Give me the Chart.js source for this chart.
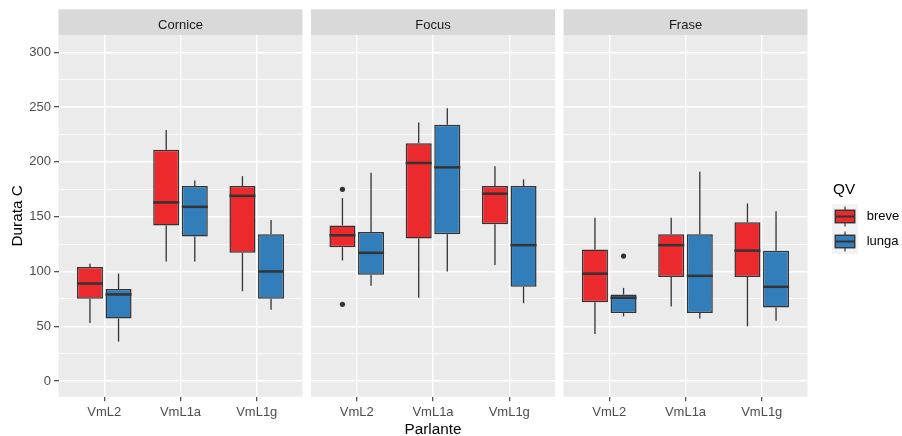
<!DOCTYPE html>
<html>
<head>
<meta charset="utf-8">
<title>Durata C per Parlante</title>
<script src="https://cdn.jsdelivr.net/npm/chart.js@4.4.1/dist/chart.umd.min.js"></script>
<style>
  html, body { margin: 0; padding: 0; background: #ffffff; }
  #wrap { position: relative; width: 902px; height: 436px; overflow: hidden; background: #ffffff; }
  canvas { position: absolute; top: 0; }
</style>
</head>
<body>
<div id="wrap">
  <canvas id="pCornice" width="303" height="436" style="left:0px"></canvas>
  <canvas id="pFocus" width="244" height="436" style="left:311px"></canvas>
  <canvas id="pFrase" width="339" height="436" style="left:563px"></canvas>
</div>
<script>
// Speakers on the x axis, facets across the top, QV groups in the legend
const categories = ['VmL2', 'VmL1a', 'VmL1g'];
const facets = ['Cornice', 'Focus', 'Frase'];
const groups = ['breve', 'lunga'];
const groupColors = ['#EC2A2E', '#327EBA'];
const yTicks = [0, 50, 100, 150, 200, 250, 300];
const yGrid = [0, 25, 50, 75, 100, 125, 150, 175, 200, 225, 250, 275, 300];

// Five-number summaries per speaker: [min, q1, median, q3, max]
const corniceBreve = [[53, 75, 89, 104, 107], [109, 142, 163, 211, 229], [82, 117, 169, 178, 187]];
const corniceLunga = [[36, 57, 79, 84, 98], [109, 132, 159, 178, 183], [65, 75, 100, 134, 147]];
const focusBreve = [[110, 122, 133, 142, 167], [76, 130, 199, 217, 236], [106, 143, 171, 178, 196]];
const focusLunga = [[87, 97, 117, 136, 190], [100, 134, 195, 234, 249], [71, 86, 124, 178, 184]];
const fraseBreve = [[43, 72, 98, 120, 149], [68, 95, 124, 134, 149], [50, 95, 119, 145, 162]];
const fraseLunga = [[59, 62, 76, 79, 85], [57, 62, 96, 134, 191], [55, 67, 86, 119, 155]];

// Outliers: [group index, speaker index, value]
const corniceOutliers = [];
const focusOutliers = [[0, 0, 175], [0, 0, 70]];
const fraseOutliers = [[1, 0, 114]];

const FONT = '"Liberation Sans", Arial, sans-serif';
Chart.defaults.font.family = FONT;

function strokeLine(ctx, x1, y1, x2, y2) {
  ctx.beginPath();
  ctx.moveTo(x1, y1);
  ctx.lineTo(x2, y2);
  ctx.stroke();
}

function drawLegend(ctx, ox) {
  ctx.save();
  ctx.fillStyle = '#000000';
  ctx.font = '15.3px ' + FONT;
  ctx.textAlign = 'left';
  ctx.textBaseline = 'alphabetic';
  ctx.fillText('QV', 833 - ox, 194);
  groups.forEach((g, k) => {
    const kx = 832 - ox, ky = 204 + k * 25, kw = 26, kh = 25;
    ctx.fillStyle = '#F2F2F2';
    ctx.fillRect(kx, ky, kw, kh);
    const cx = kx + kw / 2;
    ctx.strokeStyle = '#333333';
    ctx.lineWidth = 1.2;
    strokeLine(ctx, cx, ky + kh * 0.1, cx, ky + kh * 0.25);
    strokeLine(ctx, cx, ky + kh * 0.75, cx, ky + kh * 0.9);
    ctx.fillStyle = groupColors[k];
    ctx.fillRect(kx + kw * 0.125, ky + kh * 0.25, kw * 0.75, kh * 0.5);
    ctx.lineWidth = 1.4;
    ctx.strokeRect(kx + kw * 0.125, ky + kh * 0.25, kw * 0.75, kh * 0.5);
    ctx.lineWidth = 2;
    strokeLine(ctx, kx + kw * 0.125, ky + kh / 2, kx + kw * 0.875, ky + kh / 2);
    ctx.fillStyle = '#000000';
    ctx.font = '13px ' + FONT;
    ctx.textBaseline = 'middle';
    ctx.fillText(g, 866.7 - ox, ky + kh / 2);
  });
  ctx.restore();
}

function panel(id, facet, breve, lunga, outliers, cfg) {
  const stats = [breve, lunga];

  const boxDetails = {
    id: 'boxDetails',
    beforeDraw(chart) {
      const { ctx, chartArea: a } = chart;
      ctx.save();
      ctx.fillStyle = '#EBEBEB';
      ctx.fillRect(a.left, a.top, a.right - a.left, a.bottom - a.top);
      ctx.fillStyle = '#D9D9D9';
      ctx.fillRect(a.left, 9.3, a.right - a.left, a.top - 9.3);
      ctx.fillStyle = '#1A1A1A';
      ctx.font = '13px ' + FONT;
      ctx.textAlign = 'center';
      ctx.textBaseline = 'alphabetic';
      ctx.fillText(facet, (a.left + a.right) / 2, 28.5);
      ctx.restore();
    },
    afterDatasetsDraw(chart) {
      const ctx = chart.ctx;
      const ys = chart.scales.y;
      ctx.save();
      ctx.strokeStyle = '#333333';
      stats.forEach((series, g) => {
        const meta = chart.getDatasetMeta(g);
        series.forEach((s, i) => {
          const bar = meta.data[i];
          const half = bar.width / 2;
          ctx.lineWidth = 1.3;
          strokeLine(ctx, bar.x, ys.getPixelForValue(s[3]), bar.x, ys.getPixelForValue(s[4]));
          strokeLine(ctx, bar.x, ys.getPixelForValue(s[1]), bar.x, ys.getPixelForValue(s[0]));
          ctx.lineWidth = 2.5;
          const my = ys.getPixelForValue(s[2]);
          strokeLine(ctx, bar.x - half, my, bar.x + half, my);
        });
      });
      ctx.fillStyle = '#333333';
      outliers.forEach(([g, i, v]) => {
        const bar = chart.getDatasetMeta(g).data[i];
        ctx.beginPath();
        ctx.arc(bar.x, ys.getPixelForValue(v), 2.6, 0, Math.PI * 2);
        ctx.fill();
      });
      ctx.restore();
    },
    afterDraw(chart) {
      if (cfg.legendOffset !== undefined) drawLegend(chart.ctx, cfg.legendOffset);
    }
  };

  return new Chart(document.getElementById(id), {
    type: 'bar',
    data: {
      datasets: stats.map((series, g) => ({
        label: groups[g],
        data: series.map((s, i) => ({ x: i + 1, y: [s[1], s[3]] })),
        backgroundColor: groupColors[g],
        borderColor: '#333333',
        borderWidth: 1.5,
        borderSkipped: false,
        categoryPercentage: 0.75,
        barPercentage: 0.91
      }))
    },
    options: {
      responsive: false,
      animation: false,
      devicePixelRatio: 1,
      layout: { padding: cfg.padding },
      plugins: { legend: { display: false }, tooltip: { enabled: false } },
      scales: {
        x: {
          type: 'linear',
          min: 0.4,
          max: 3.6,
          offset: false,
          afterBuildTicks: s => { s.ticks = categories.map((c, i) => ({ value: i + 1 })); },
          afterFit: s => { s.height = 39.3; },
          ticks: {
            autoSkip: false, maxRotation: 0, padding: 3,
            color: '#4D4D4D', font: { size: 13 },
            callback: (v, i) => categories[i]
          },
          grid: {
            offset: false, color: '#FFFFFF', lineWidth: 1.4,
            drawTicks: true, tickLength: 4.5, tickColor: '#333333', tickWidth: 1.1
          },
          border: { display: false },
          title: cfg.xTitle
            ? { display: true, text: 'Parlante', color: '#000000', font: { size: 15.3 }, padding: { top: 0, bottom: -2.5 } }
            : { display: false }
        },
        y: {
          min: -14.3,
          max: 315.8,
          afterBuildTicks: s => { s.ticks = yGrid.map(v => ({ value: v })); },
          afterFit: s => { s.width = cfg.yWidth; },
          ticks: {
            display: cfg.yLabels, autoSkip: false, padding: 3,
            color: '#4D4D4D', font: { size: 13 },
            callback: v => (yTicks.includes(v) ? String(v) : '')
          },
          grid: {
            color: '#FFFFFF',
            lineWidth: c => (c.tick && !yTicks.includes(c.tick.value) ? 0.7 : 1.4),
            drawTicks: cfg.yLabels,
            tickLength: 4.5,
            tickColor: c => (c.tick && yTicks.includes(c.tick.value) ? '#333333' : 'rgba(0,0,0,0)'),
            tickWidth: 1.1
          },
          border: { display: false },
          title: cfg.yLabels
            ? { display: true, text: 'Durata C', color: '#000000', font: { size: 15.3 }, padding: { top: 8.5, bottom: 0 } }
            : { display: false }
        }
      }
    },
    plugins: [boxDetails]
  });
}

panel('pCornice', facets[0], corniceBreve, corniceLunga, corniceOutliers,
  { padding: { left: 0, right: 0.5, top: 35, bottom: 0 }, yWidth: 58.5, yLabels: true, xTitle: false });
panel('pFocus', facets[1], focusBreve, focusLunga, focusOutliers,
  { padding: { left: 0, right: 0, top: 35, bottom: 0 }, yWidth: 0, yLabels: false, xTitle: true });
panel('pFrase', facets[2], fraseBreve, fraseLunga, fraseOutliers,
  { padding: { left: 0.5, right: 94.5, top: 35, bottom: 0 }, yWidth: 0, yLabels: false, xTitle: false, legendOffset: 563 });
</script>
</body>
</html>
